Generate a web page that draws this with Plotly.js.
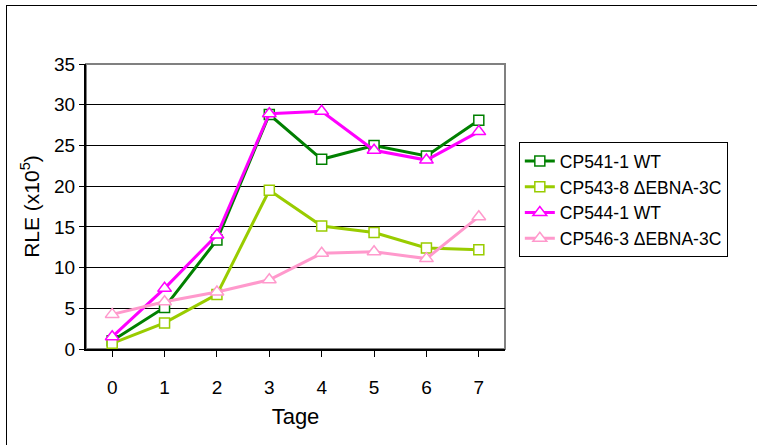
<!DOCTYPE html>
<html><head><meta charset="utf-8">
<script src="https://cdn.plot.ly/plotly-3.0.1.min.js"></script>
<style>body{margin:0;background:#fff}#wrap{position:relative;width:757px;height:445px;overflow:hidden}
#frame{position:absolute;left:6px;top:5px;width:900px;height:600px;border:1px solid #000;pointer-events:none}</style>
</head><body><div id="wrap"><div id="chart" style="width:757px;height:445px"></div><div id="frame"></div></div>
<script>
const days = ['0','1','2','3','4','5','6','7'];
const names = ['CP541-1 WT','CP543-8 \u0394EBNA-3C','CP544-1 WT','CP546-3 \u0394EBNA-3C'];
const cp541 = [1.0, 5.1, 13.4, 28.8, 23.3, 25.0, 23.7, 28.1];
const cp543 = [0.7, 3.2, 6.7, 19.5, 15.1, 14.3, 12.4, 12.2];
const cp544 = [1.5, 7.45, 14.0, 28.9, 29.2, 24.4, 23.2, 26.7];
const cp546 = [4.25, 5.8, 7.0, 8.5, 11.75, 11.95, 11.1, 16.25];
const yTicks = [0,5,10,15,20,25,30,35];

const series = [cp541, cp543, cp544, cp546];
const colors = ['#008000','#99CC00','#FF00FF','#FF99CC'];
const symbols = ['square','square','triangle-up','triangle-up'];
const sizes = [10,10,12,12];
const traces = series.map((s,i)=>({
  x: days, y: s, name: names[i], type:'scatter', mode:'lines+markers',
  legendgroup: 'g'+i,
  line:{color:colors[i], width:3},
  marker:{symbol:symbols[i], size:sizes[i], color:'#fff', line:{color:colors[i], width:1.5}}
}));
const layout = {
  width:757, height:445,
  margin:{l:86, r:252, t:64, b:96},
  paper_bgcolor:'#fff', plot_bgcolor:'#fff',
  font:{family:'Liberation Sans, Arial, sans-serif', color:'#000', size:19},
  showlegend:true,
  legend:{x:1.033, xanchor:'left', y:0.726, yanchor:'top', bordercolor:'#000', borderwidth:1,
    font:{size:17.5}, traceorder:'grouped', tracegroupgap:0, bgcolor:'#fff'},
  xaxis:{type:'category', range:[-0.5,7.5], showgrid:false, showline:true, linecolor:'#000', linewidth:2,
    ticks:'outside', ticklen:6, tickcolor:'#000', tickwidth:1, zeroline:false, ticklabelstandoff:14,
    tickfont:{size:19},
    title:{text:'Tage', font:{size:22}, standoff:12}},
  yaxis:{range:[0,35], tickvals:yTicks, showgrid:true, gridcolor:'#000', gridwidth:1, showline:true,
    linecolor:'#000', linewidth:2, ticks:'outside', ticklen:5, tickcolor:'#000', zeroline:false,
    tickfont:{size:19},
    title:{text:'RLE (x10<sup>5</sup>)', font:{size:21}, standoff:9}},
  shapes:[{type:'rect', xref:'paper', yref:'paper', x0:0, x1:1, y0:0, y1:1, line:{color:'#808080', width:2}, layer:'below'}]
};
Plotly.newPlot('chart', traces, layout, {displayModeBar:false});
</script></body></html>
